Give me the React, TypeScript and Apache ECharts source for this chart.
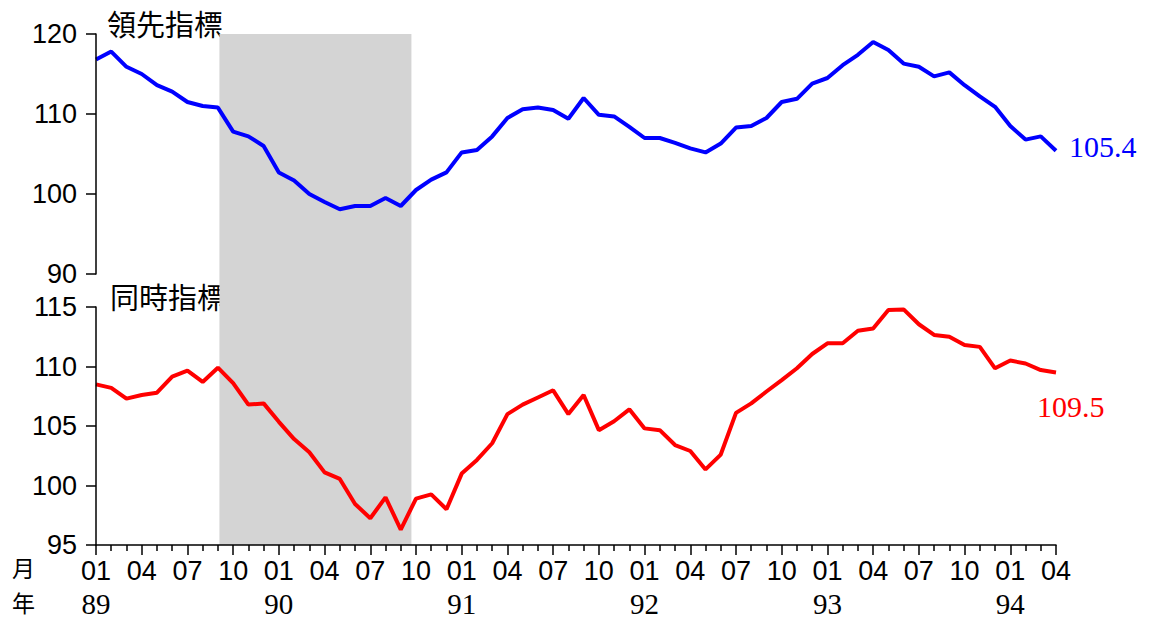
import React, { useEffect, useRef } from "react";
import * as echarts from "echarts";

const leading = [116.8, 117.8, 115.9, 115.0, 113.6, 112.8, 111.5, 111.0, 110.8, 107.8, 107.2, 106.0, 102.7, 101.7, 100.0, 99.0, 98.1, 98.5, 98.5, 99.5, 98.5, 100.5, 101.8, 102.7, 105.2, 105.5, 107.2, 109.5, 110.6, 110.8, 110.5, 109.4, 112.0, 109.9, 109.7, 108.4, 107.0, 107.0, 106.4, 105.7, 105.2, 106.3, 108.3, 108.5, 109.5, 111.5, 111.9, 113.8, 114.5, 116.1, 117.4, 119.0, 118.0, 116.3, 115.9, 114.7, 115.2, 113.6, 112.2, 110.9, 108.5, 106.8, 107.2, 105.4];
const coincident = [108.5, 108.2, 107.3, 107.6, 107.8, 109.15, 109.65, 108.7, 109.9, 108.6, 106.8, 106.9, 105.35, 103.9, 102.8, 101.1, 100.55, 98.45, 97.25, 99.0, 96.3, 98.9, 99.25, 98.0, 101.0, 102.15, 103.55, 106.0, 106.8, 107.4, 108.0, 106.0, 107.6, 104.65, 105.4, 106.4, 104.8, 104.65, 103.4, 102.9, 101.35, 102.6, 106.1, 106.9, 107.9, 108.85, 109.85, 111.05, 111.95, 111.95, 113.0, 113.2, 114.75, 114.8, 113.55, 112.65, 112.5, 111.8, 111.65, 109.85, 110.5, 110.25, 109.7, 109.5];
const monthLabels = ["01", "02", "03", "04", "05", "06", "07", "08", "09", "10", "11", "12"];
const yearLabels = ["89", "90", "91", "92", "93", "94"];
const shadeRange = [8.1, 20.7];
const titles = ["領先指標", "同時指標"];

const SANS = "'Liberation Sans', Arial, sans-serif";
const SERIF = "'Liberation Serif', 'Times New Roman', serif";
const CJK = "'Noto Sans CJK TC', sans-serif";

export default function App() {
  const ref = useRef<HTMLDivElement>(null);
  useEffect(() => {
    if (!ref.current) return;
    const chart = echarts.init(ref.current, undefined, { renderer: "svg" });
    const lastIdx = leading.length - 1;
    const yAxisCommon = {
      axisLine: { show: true, lineStyle: { color: "#000", width: 1.5 } },
      axisTick: { show: true, length: 10, lineStyle: { color: "#000", width: 1.5 } },
      axisLabel: { color: "#000", fontSize: 27, fontFamily: SANS, margin: 19 },
      splitLine: { show: false },
      z: 5,
    };
    chart.setOption({
      animation: false,
      backgroundColor: "#fff",
      grid: [
        { left: 96, right: 93, top: 34, height: 240 },
        { left: 96, right: 93, top: 307, height: 238 },
        { left: 96, right: 93, top: 34, height: 511 },
      ],
      xAxis: [
        { type: "value", gridIndex: 0, min: 0, max: lastIdx, show: false },
        {
          type: "value", gridIndex: 1, position: "bottom", min: 0, max: lastIdx, interval: 3, z: 5,
          axisLine: { show: true, onZero: false, lineStyle: { color: "#000", width: 1.5 } },
          axisTick: { show: true, length: 10, lineStyle: { color: "#000", width: 1.5 } },
          minorTick: { show: true, splitNumber: 3, length: 6, lineStyle: { color: "#000", width: 1.5 } },
          splitLine: { show: false },
          minorSplitLine: { show: false },
          axisLabel: {
            color: "#000", fontSize: 27, fontFamily: SANS, margin: 12,
            formatter: (v: number) => (v % 3 === 0 ? monthLabels[v % 12] : ""),
          },
        },
        {
          type: "value", gridIndex: 1, position: "bottom", offset: 0, min: 0, max: lastIdx, interval: 12,
          axisLine: { show: false, onZero: false }, axisTick: { show: false }, splitLine: { show: false },
          axisLabel: {
            color: "#000", fontSize: 29, fontFamily: SERIF, margin: 44, showMaxLabel: false,
            formatter: (v: number) => (v % 12 === 0 ? yearLabels[v / 12] : ""),
          },
        },
        { type: "value", gridIndex: 2, min: 0, max: lastIdx, show: false },
      ],
      yAxis: [
        { type: "value", gridIndex: 0, min: 90, max: 120, interval: 10, ...yAxisCommon },
        { type: "value", gridIndex: 1, min: 95, max: 115, interval: 5, ...yAxisCommon },
        { type: "value", gridIndex: 2, min: 0, max: 1, show: false },
      ],
      graphic: [
        { type: "text", x: 107, y: 23, style: { text: titles[0], font: `29px ${CJK}`, fill: "#000", verticalAlign: "middle" } },
        { type: "text", x: 110, y: 296, style: { text: titles[1], font: `29px ${CJK}`, fill: "#000", verticalAlign: "middle" } },
        { type: "text", x: 12, y: 567, style: { text: "月", font: `23px ${CJK}`, fill: "#000", verticalAlign: "middle" } },
        { type: "text", x: 12, y: 602, style: { text: "年", font: `23px ${CJK}`, fill: "#000", verticalAlign: "middle" } },
      ],
      series: [
        {
          type: "line", xAxisIndex: 3, yAxisIndex: 2, data: [], z: 1, silent: true,
          markArea: {
            silent: true,
            itemStyle: { color: "#d4d4d4" },
            data: [[{ xAxis: shadeRange[0] }, { xAxis: shadeRange[1] }]],
          },
        },
        {
          type: "line", xAxisIndex: 0, yAxisIndex: 0, z: 3, symbol: "none",
          data: leading.map((v, i) => [i, v]),
          lineStyle: { color: "#0000ff", width: 4 },
          itemStyle: { color: "#0000ff" },
          endLabel: {
            show: true, color: "#0000ff", fontSize: 30, fontFamily: SERIF, offset: [5, -4],
            formatter: (p: any) => p.value[1].toFixed(1),
          },
        },
        {
          type: "line", xAxisIndex: 1, yAxisIndex: 1, z: 3, symbol: "none",
          data: coincident.map((v, i) => [i, v]),
          lineStyle: { color: "#ff0000", width: 4 },
          itemStyle: { color: "#ff0000" },
          endLabel: {
            show: true, color: "#ff0000", fontSize: 30, fontFamily: SERIF, offset: [-27, 34],
            formatter: (p: any) => p.value[1].toFixed(1),
          },
        },
      ],
    });
    return () => chart.dispose();
  }, []);
  return <div ref={ref} style={{ position: "fixed", left: 0, top: 0, width: 1149, height: 619 }} />;
}
